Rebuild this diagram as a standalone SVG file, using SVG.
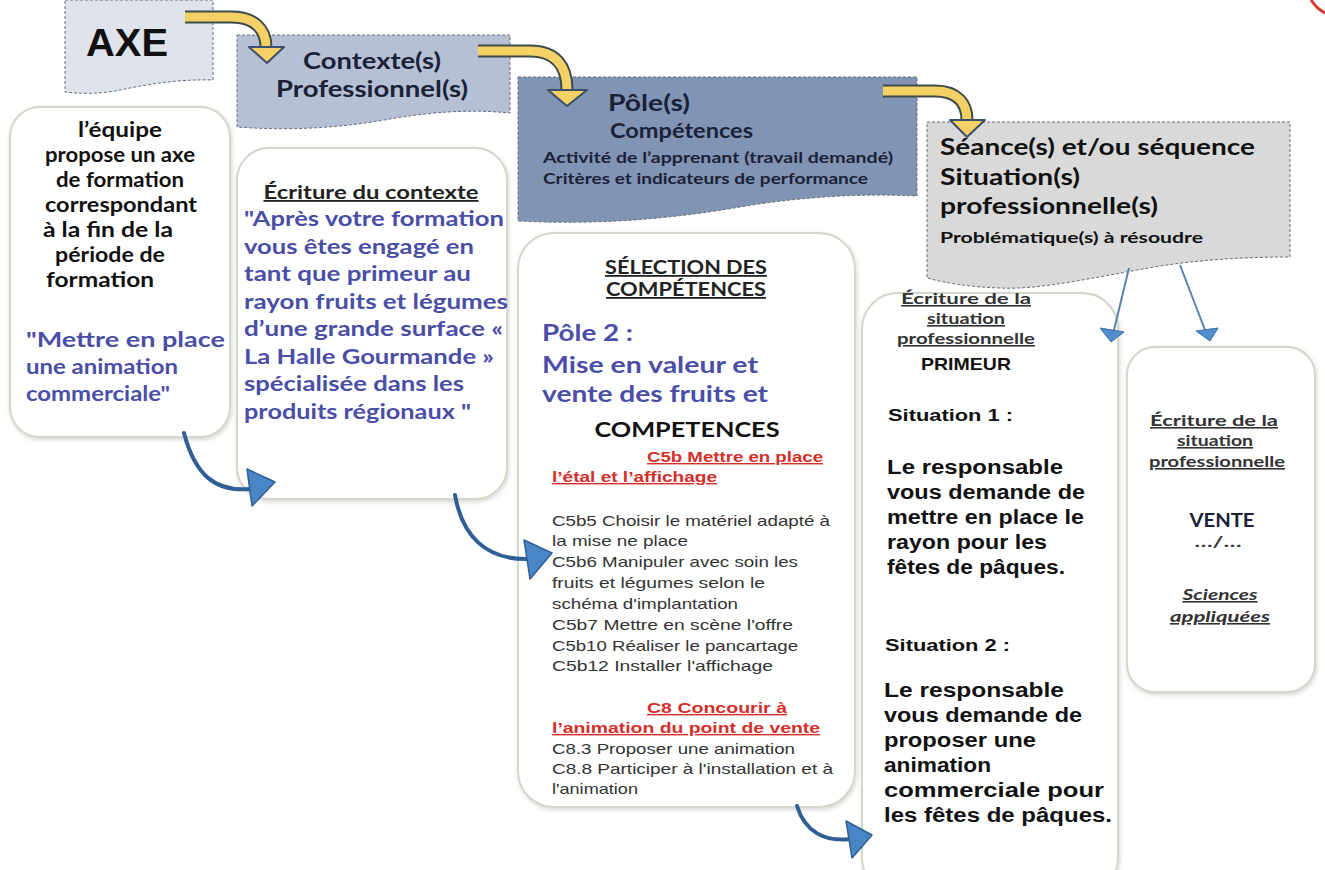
<svg xmlns="http://www.w3.org/2000/svg" width="1325" height="870" viewBox="0 0 1325 870">
<defs>
<style>
.lt{font-family:Lato,"Open Sans",sans-serif;font-weight:700}
.ar{font-family:"Liberation Sans",Arial,sans-serif}
.arb{font-family:"Liberation Sans",Arial,sans-serif;font-weight:700}
.u{text-decoration:underline}
.blue{fill:#4a4ea6}
.red{fill:#d42f2a}
.dk{fill:#1a2238}
.g3{fill:#333}
.k{fill:#111}
.box{fill:#fff;stroke:#d2d8cb;stroke-width:2}
.ban{stroke:#66707e;stroke-width:1;stroke-dasharray:3 2}
.yo{fill:none;stroke:#3e4a4c;stroke-width:13}
.yi{fill:none;stroke:#f4d165;stroke-width:9}
.yh{fill:#f4d165;stroke:#3b4f6a;stroke-width:2;stroke-linejoin:round}
.bl{fill:none;stroke:#2f5f95;stroke-width:4;stroke-linecap:round}
.bh{fill:#4a86c6;stroke:#2f5f95;stroke-width:1.5;stroke-linejoin:round}
.tl{fill:none;stroke:#5a82b0;stroke-width:2}
.th{fill:#4f8fd0;stroke:#3f6e9e;stroke-width:1}
</style>
<filter id="sh" x="-10%" y="-10%" width="120%" height="120%">
<feDropShadow dx="1" dy="2" stdDeviation="2" flood-color="#8a8a8a" flood-opacity="0.35"/>
</filter>
</defs>

<g id="axe">
<path class="ban" d="M65,0 H213 V80 C175,79 145,85 120,90 C100,94 82,94 65,92 Z" fill="#dfe3eb"/>
<text class="arb k" x="86" y="56" font-size="38" textLength="82" lengthAdjust="spacingAndGlyphs">AXE</text>
</g>

<g id="contexte">
<path class="ban" d="M237,35 H510 V113 C470,109 430,112 390,119 C340,128 290,131 237,127 Z" fill="#b6c0d4"/>
<text class="lt dk" x="372" y="69" font-size="23" text-anchor="middle" textLength="138" lengthAdjust="spacingAndGlyphs">Contexte(s)</text>
<text class="lt dk" x="372" y="97" font-size="23" text-anchor="middle" textLength="192" lengthAdjust="spacingAndGlyphs">Professionnel(s)</text>
</g>

<g id="pole">
<path class="ban" d="M518,77 H917 V196 C860,193 800,197 740,207 C670,219 600,225 518,221 Z" fill="#8194b4"/>
<text class="lt dk" x="608" y="111" font-size="22" textLength="82" lengthAdjust="spacingAndGlyphs">Pôle(s)</text>
<text class="lt dk" x="610" y="138" font-size="20" textLength="143" lengthAdjust="spacingAndGlyphs">Compétences</text>
<text class="lt dk" x="543" y="163" font-size="16" textLength="350" lengthAdjust="spacingAndGlyphs">Activité de l’apprenant (travail demandé)</text>
<text class="lt dk" x="543" y="184" font-size="16" textLength="325" lengthAdjust="spacingAndGlyphs">Critères et indicateurs de performance</text>
</g>

<g id="seance">
<path class="ban" d="M927,122 H1290 V257 C1240,257 1200,260 1160,266 C1090,278 1040,290 1000,288 C970,287 945,283 927,278 Z" fill="#d9d9d9"/>
<text class="lt k" x="940" y="155" font-size="23" textLength="315" lengthAdjust="spacingAndGlyphs">Séance(s) et/ou séquence</text>
<text class="lt k" x="940" y="185" font-size="23" textLength="140" lengthAdjust="spacingAndGlyphs">Situation(s)</text>
<text class="lt k" x="940" y="214" font-size="23" textLength="218" lengthAdjust="spacingAndGlyphs">professionnelle(s)</text>
<text class="lt k" x="940" y="243" font-size="16" textLength="263" lengthAdjust="spacingAndGlyphs">Problématique(s) à résoudre</text>
</g>

<g id="box-axe">
<rect class="box" x="10" y="107" width="220" height="330" rx="30" filter="url(#sh)"/>
<text class="lt k" x="120" y="137" font-size="20" text-anchor="middle" textLength="84" lengthAdjust="spacingAndGlyphs">l’équipe</text>
<text class="lt k" x="120" y="162" font-size="20" text-anchor="middle" textLength="150" lengthAdjust="spacingAndGlyphs">propose un axe</text>
<text class="lt k" x="120" y="187" font-size="20" text-anchor="middle" textLength="128" lengthAdjust="spacingAndGlyphs">de formation</text>
<text class="lt k" x="121" y="212" font-size="20" text-anchor="middle" textLength="152" lengthAdjust="spacingAndGlyphs">correspondant</text>
<text class="lt k" x="43" y="237" font-size="20" textLength="130" lengthAdjust="spacingAndGlyphs">à la fin de la</text>
<text class="lt k" x="55" y="262" font-size="20" textLength="110" lengthAdjust="spacingAndGlyphs">période de</text>
<text class="lt k" x="46" y="287" font-size="20" textLength="108" lengthAdjust="spacingAndGlyphs">formation</text>
<text class="lt blue" x="26" y="347" font-size="21" textLength="199" lengthAdjust="spacingAndGlyphs">"Mettre en place</text>
<text class="lt blue" x="26" y="374" font-size="21" textLength="152" lengthAdjust="spacingAndGlyphs">une animation</text>
<text class="lt blue" x="26" y="401" font-size="21" textLength="144" lengthAdjust="spacingAndGlyphs">commerciale"</text>
</g>

<g id="box-contexte">
<rect class="box" x="237" y="148" width="270" height="351" rx="32" filter="url(#sh)"/>
<text class="lt u" x="371" y="199" font-size="18" fill="#222" text-anchor="middle" textLength="215" lengthAdjust="spacingAndGlyphs">Écriture du contexte</text>
<text class="lt blue" x="244" y="226" font-size="21" textLength="260" lengthAdjust="spacingAndGlyphs">"Après votre formation</text>
<text class="lt blue" x="244" y="253.5" font-size="21" textLength="230" lengthAdjust="spacingAndGlyphs">vous êtes engagé en</text>
<text class="lt blue" x="244" y="281" font-size="21" textLength="227" lengthAdjust="spacingAndGlyphs">tant que primeur au</text>
<text class="lt blue" x="244" y="308.5" font-size="21" textLength="264" lengthAdjust="spacingAndGlyphs">rayon fruits et légumes</text>
<text class="lt blue" x="244" y="336" font-size="21" textLength="259" lengthAdjust="spacingAndGlyphs">d’une grande surface «</text>
<text class="lt blue" x="244" y="363.5" font-size="21" textLength="250" lengthAdjust="spacingAndGlyphs">La Halle Gourmande »</text>
<text class="lt blue" x="244" y="391" font-size="21" textLength="220" lengthAdjust="spacingAndGlyphs">spécialisée dans les</text>
<text class="lt blue" x="244" y="418.5" font-size="21" textLength="227" lengthAdjust="spacingAndGlyphs">produits régionaux "</text>
</g>

<g id="box-competences">
<rect class="box" x="518" y="233" width="337" height="574" rx="36" filter="url(#sh)"/>
<text class="lt u" x="686" y="274" font-size="18" fill="#222" text-anchor="middle" textLength="162" lengthAdjust="spacingAndGlyphs">SÉLECTION DES</text>
<text class="lt u" x="686" y="296" font-size="18" fill="#222" text-anchor="middle" textLength="160" lengthAdjust="spacingAndGlyphs">COMPÉTENCES</text>
<text class="lt blue" x="542" y="341" font-size="23" textLength="91" lengthAdjust="spacingAndGlyphs">Pôle 2 :</text>
<text class="lt blue" x="542" y="373" font-size="23" textLength="216" lengthAdjust="spacingAndGlyphs">Mise en valeur et</text>
<text class="lt blue" x="542" y="402" font-size="23" textLength="226" lengthAdjust="spacingAndGlyphs">vente des fruits et</text>
<text class="lt k" x="687" y="437" font-size="21" text-anchor="middle" textLength="185" lengthAdjust="spacingAndGlyphs">COMPETENCES</text>
<text class="arb red u" x="647" y="462" font-size="14" textLength="176" lengthAdjust="spacingAndGlyphs">C5b Mettre en place</text>
<text class="arb red u" x="552" y="482" font-size="14" textLength="165" lengthAdjust="spacingAndGlyphs">l’étal et l’affichage</text>
<text class="ar g3" x="552" y="526" font-size="14.5" textLength="278" lengthAdjust="spacingAndGlyphs">C5b5 Choisir le matériel adapté à</text>
<text class="ar g3" x="552" y="546" font-size="14.5" textLength="136" lengthAdjust="spacingAndGlyphs">la mise ne place</text>
<text class="ar g3" x="552" y="567" font-size="14.5" textLength="246" lengthAdjust="spacingAndGlyphs">C5b6 Manipuler avec soin les</text>
<text class="ar g3" x="552" y="588" font-size="14.5" textLength="213" lengthAdjust="spacingAndGlyphs">fruits et légumes selon le</text>
<text class="ar g3" x="552" y="609" font-size="14.5" textLength="186" lengthAdjust="spacingAndGlyphs">schéma d'implantation</text>
<text class="ar g3" x="552" y="630" font-size="14.5" textLength="241" lengthAdjust="spacingAndGlyphs">C5b7 Mettre en scène l'offre</text>
<text class="ar g3" x="552" y="651" font-size="14.5" textLength="246" lengthAdjust="spacingAndGlyphs">C5b10 Réaliser le pancartage</text>
<text class="ar g3" x="552" y="671" font-size="14.5" textLength="221" lengthAdjust="spacingAndGlyphs">C5b12 Installer l'affichage</text>
<text class="arb red u" x="647" y="713" font-size="14" textLength="140" lengthAdjust="spacingAndGlyphs">C8 Concourir à</text>
<text class="arb red u" x="552" y="733" font-size="14" textLength="268" lengthAdjust="spacingAndGlyphs">l’animation du point de vente</text>
<text class="ar g3" x="552" y="754" font-size="14.5" textLength="243" lengthAdjust="spacingAndGlyphs">C8.3 Proposer une animation</text>
<text class="ar g3" x="552" y="774" font-size="14.5" textLength="281" lengthAdjust="spacingAndGlyphs">C8.8 Participer à l'installation et à</text>
<text class="ar g3" x="552" y="794" font-size="14.5" textLength="86" lengthAdjust="spacingAndGlyphs">l'animation</text>
</g>

<g id="box-primeur">
<rect class="box" x="862" y="293" width="256" height="600" rx="36" filter="url(#sh)"/>
<text class="lt u g3" x="966" y="304" font-size="16" text-anchor="middle" textLength="130" lengthAdjust="spacingAndGlyphs">Écriture de la</text>
<text class="lt u g3" x="966" y="324" font-size="16" text-anchor="middle" textLength="78" lengthAdjust="spacingAndGlyphs">situation</text>
<text class="lt u g3" x="966" y="344" font-size="16" text-anchor="middle" textLength="138" lengthAdjust="spacingAndGlyphs">professionnelle</text>
<text class="arb k" x="966" y="370" font-size="17" text-anchor="middle" textLength="90" lengthAdjust="spacingAndGlyphs">PRIMEUR</text>
<text class="arb k" x="888" y="421" font-size="17" textLength="125" lengthAdjust="spacingAndGlyphs">Situation 1 :</text>
<text class="arb k" x="887" y="474" font-size="20" textLength="176" lengthAdjust="spacingAndGlyphs">Le responsable</text>
<text class="arb k" x="887" y="499" font-size="20" textLength="198" lengthAdjust="spacingAndGlyphs">vous demande de</text>
<text class="arb k" x="887" y="524" font-size="20" textLength="197" lengthAdjust="spacingAndGlyphs">mettre en place le</text>
<text class="arb k" x="887" y="549" font-size="20" textLength="160" lengthAdjust="spacingAndGlyphs">rayon pour les</text>
<text class="arb k" x="887" y="574" font-size="20" textLength="178" lengthAdjust="spacingAndGlyphs">fêtes de pâques.</text>
<text class="arb k" x="885" y="651" font-size="17" textLength="125" lengthAdjust="spacingAndGlyphs">Situation 2 :</text>
<text class="arb k" x="884" y="697" font-size="20" textLength="180" lengthAdjust="spacingAndGlyphs">Le responsable</text>
<text class="arb k" x="884" y="722" font-size="20" textLength="198" lengthAdjust="spacingAndGlyphs">vous demande de</text>
<text class="arb k" x="884" y="747" font-size="20" textLength="152" lengthAdjust="spacingAndGlyphs">proposer une</text>
<text class="arb k" x="884" y="772" font-size="20" textLength="107" lengthAdjust="spacingAndGlyphs">animation</text>
<text class="arb k" x="884" y="797" font-size="20" textLength="220" lengthAdjust="spacingAndGlyphs">commerciale pour</text>
<text class="arb k" x="884" y="822" font-size="20" textLength="228" lengthAdjust="spacingAndGlyphs">les fêtes de pâques.</text>
</g>

<g id="box-vente">
<rect class="box" x="1127" y="347" width="188" height="345" rx="28" filter="url(#sh)"/>
<text class="lt u g3" x="1214" y="426" font-size="16" text-anchor="middle" textLength="128" lengthAdjust="spacingAndGlyphs">Écriture de la</text>
<text class="lt u g3" x="1215" y="446" font-size="16" text-anchor="middle" textLength="76" lengthAdjust="spacingAndGlyphs">situation</text>
<text class="lt u g3" x="1217" y="467" font-size="16" text-anchor="middle" textLength="136" lengthAdjust="spacingAndGlyphs">professionnelle</text>
<text class="lt dk" x="1222" y="527" font-size="18" text-anchor="middle" textLength="65" lengthAdjust="spacingAndGlyphs">VENTE</text>
<text class="lt g3" x="1218" y="547" font-size="16" text-anchor="middle" textLength="47" lengthAdjust="spacingAndGlyphs">…/…</text>
<text class="lt u g3" x="1220" y="600" font-size="16" font-style="italic" text-anchor="middle" textLength="75" lengthAdjust="spacingAndGlyphs">Sciences</text>
<text class="lt u g3" x="1220" y="622" font-size="16" font-style="italic" text-anchor="middle" textLength="100" lengthAdjust="spacingAndGlyphs">appliquées</text>
</g>

<g id="connectors">
<path class="yo" d="M185,17 L232,17 C255,17 266,30 266,47"/>
<path class="yi" d="M185,17 L232,17 C255,17 266,30 266,47"/>
<polygon class="yh" points="249,47 284,47 267,63"/>
<path class="yo" d="M478,51 L530,51 C556,51 567,66 567,90"/>
<path class="yi" d="M478,51 L530,51 C556,51 567,66 567,90"/>
<polygon class="yh" points="548,90 587,90 567,106"/>
<path class="yo" d="M883,91 L935,91 C958,91 967,104 967,120"/>
<path class="yi" d="M883,91 L935,91 C958,91 967,104 967,120"/>
<polygon class="yh" points="950,120 985,120 967,137"/>

<path class="bl" d="M184,433 C195,475 215,492 250,489"/>
<polygon class="bh" points="247,469 275,482 252,506"/>
<path class="bl" d="M455,495 C462,535 485,560 528,559"/>
<polygon class="bh" points="524,540 552,553 530,579"/>
<path class="bl" d="M797,806 C805,832 825,842 850,839"/>
<polygon class="bh" points="846,821 872,835 852,858"/>

<path class="tl" d="M1129,268 L1114,330"/>
<polygon class="th" points="1100,328 1124,332 1111,342"/>
<path class="tl" d="M1180,265 L1205,330"/>
<polygon class="th" points="1196,331 1218,328 1210,341"/>
</g>

<path d="M1311,0 Q1317,9 1325,13" fill="none" stroke="#d7392f" stroke-width="3"/>
</svg>
